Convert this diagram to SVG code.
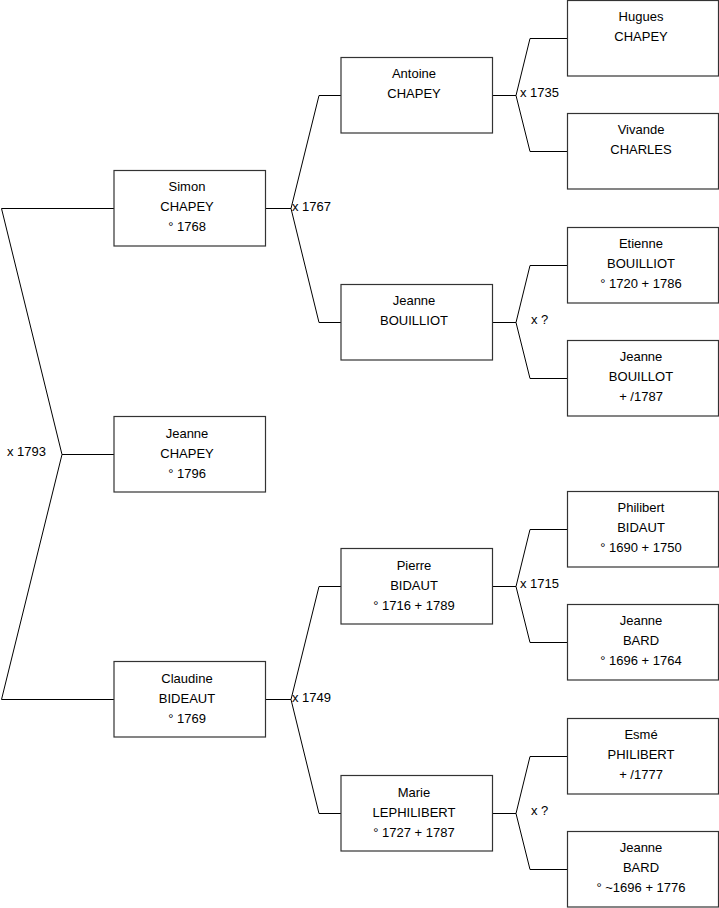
<svg xmlns="http://www.w3.org/2000/svg" width="719" height="908" viewBox="0 0 719 908">
<style>
.box{fill:#fff;stroke:#333;stroke-width:1.2}
.t{font-family:"Liberation Sans",Arial,sans-serif;font-size:13px;fill:#000;text-anchor:middle}
.l{font-family:"Liberation Sans",Arial,sans-serif;font-size:13px;fill:#000}
.c{fill:none;stroke:#000;stroke-width:1}
</style>
<rect width="719" height="908" fill="#fff"/>
<g id="connectors">
<path class="c" d="M114,208.5H1.5L62,454.5L1.5,699.5H114M62,454.5H114"/>
<path class="c" d="M265,208.5H291M319,95.5L291,208.5L319,322.5M319,95.5H341M319,322.5H341"/>
<path class="c" d="M265,699.5H291M319,586.5L291,699.5L319,813.5M319,586.5H341M319,813.5H341"/>
<path class="c" d="M492,95.5H516L530,38.5H567M516,95.5L530,151.5H567"/>
<path class="c" d="M492,322.5H516L530,265.5H567M516,322.5L530,378.5H567"/>
<path class="c" d="M492,586.5H516L530,529.5H567M516,586.5L530,642.5H567"/>
<path class="c" d="M492,813.5H516L530,756.5H567M516,813.5L530,869.5H567"/>
<text class="l" x="7" y="456">x 1793</text>
<text class="l" x="292" y="211">x 1767</text>
<text class="l" x="292" y="702">x 1749</text>
<text class="l" x="520" y="97">x 1735</text>
<text class="l" x="531" y="324">x ?</text>
<text class="l" x="520" y="588">x 1715</text>
<text class="l" x="531" y="815">x ?</text>
</g>
<g id="simon"><rect class="box" x="114" y="170.5" width="151.5" height="75.5"/><text class="t" x="187" y="191">Simon</text><text class="t" x="187" y="211">CHAPEY</text><text class="t" x="187" y="231">° 1768</text></g>
<g id="jeanne-chapey"><rect class="box" x="114" y="416.5" width="151.5" height="75.5"/><text class="t" x="187" y="438">Jeanne</text><text class="t" x="187" y="458">CHAPEY</text><text class="t" x="187" y="478">° 1796</text></g>
<g id="claudine"><rect class="box" x="114" y="661.5" width="151.5" height="75.5"/><text class="t" x="187" y="683">Claudine</text><text class="t" x="187" y="703">BIDEAUT</text><text class="t" x="187" y="723">° 1769</text></g>
<g id="antoine"><rect class="box" x="341" y="57.5" width="151.5" height="75.5"/><text class="t" x="414" y="78">Antoine</text><text class="t" x="414" y="98">CHAPEY</text></g>
<g id="jeanne-bouilliot"><rect class="box" x="341" y="284.5" width="151.5" height="75.5"/><text class="t" x="414" y="305">Jeanne</text><text class="t" x="414" y="325">BOUILLIOT</text></g>
<g id="pierre"><rect class="box" x="341" y="548.5" width="151.5" height="75.5"/><text class="t" x="414" y="570">Pierre</text><text class="t" x="414" y="590">BIDAUT</text><text class="t" x="414" y="610">° 1716 + 1789</text></g>
<g id="marie"><rect class="box" x="341" y="775.5" width="151.5" height="75.5"/><text class="t" x="414" y="797">Marie</text><text class="t" x="414" y="817">LEPHILIBERT</text><text class="t" x="414" y="837">° 1727 + 1787</text></g>
<g id="hugues"><rect class="box" x="567.5" y="0.5" width="151" height="75.5"/><text class="t" x="641" y="21">Hugues</text><text class="t" x="641" y="41">CHAPEY</text></g>
<g id="vivande"><rect class="box" x="567.5" y="113.5" width="151" height="75.5"/><text class="t" x="641" y="134">Vivande</text><text class="t" x="641" y="154">CHARLES</text></g>
<g id="etienne"><rect class="box" x="567.5" y="227.5" width="151" height="75.5"/><text class="t" x="641" y="248">Etienne</text><text class="t" x="641" y="268">BOUILLIOT</text><text class="t" x="641" y="288">° 1720 + 1786</text></g>
<g id="jeanne-bouillot"><rect class="box" x="567.5" y="340.5" width="151" height="75.5"/><text class="t" x="641" y="361">Jeanne</text><text class="t" x="641" y="381">BOUILLOT</text><text class="t" x="641" y="401">+ /1787</text></g>
<g id="philibert"><rect class="box" x="567.5" y="491.5" width="151" height="75.5"/><text class="t" x="641" y="512">Philibert</text><text class="t" x="641" y="532">BIDAUT</text><text class="t" x="641" y="552">° 1690 + 1750</text></g>
<g id="jeanne-bard"><rect class="box" x="567.5" y="604.5" width="151" height="75.5"/><text class="t" x="641" y="625">Jeanne</text><text class="t" x="641" y="645">BARD</text><text class="t" x="641" y="665">° 1696 + 1764</text></g>
<g id="esme"><rect class="box" x="567.5" y="718.5" width="151" height="75.5"/><text class="t" x="641" y="739">Esmé</text><text class="t" x="641" y="759">PHILIBERT</text><text class="t" x="641" y="779">+ /1777</text></g>
<g id="jeanne-bard-2"><rect class="box" x="567.5" y="831.5" width="151" height="75.5"/><text class="t" x="641" y="852">Jeanne</text><text class="t" x="641" y="872">BARD</text><text class="t" x="641" y="892">° ~1696 + 1776</text></g>
</svg>
